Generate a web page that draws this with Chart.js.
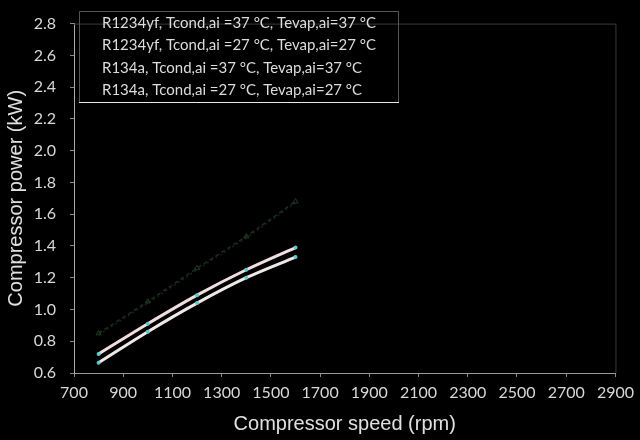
<!DOCTYPE html>
<html lang="en">
<head>
  <meta charset="UTF-8">
  <script src="https://cdn.jsdelivr.net/npm/chart.js"></script>
  <title>Compressor power</title>
  <style>
    html, body{margin: 0; padding: 0; background: #000;}
    #wrap{width: 640px; height: 440px;}
  </style>
</head>
<body>
  <div id="wrap">
    <canvas id="myChart" width="640" height="440"></canvas>
  </div>
  <script>
    // data
    const speeds = [800, 1000, 1200, 1400, 1600];
    const yf37 = [0.85, 1.05, 1.26, 1.46, 1.68];
    const yf27 = [0.72, 0.91, 1.09, 1.25, 1.39];
    const a37 = [0.84, 1.04, 1.25, 1.45, 1.67];
    const a27 = [0.665, 0.86, 1.04, 1.20, 1.33];
    const seriesLabels = [
      "R1234yf, Tcond,ai =37 °C, Tevap,ai=37 °C",
      "R1234yf, Tcond,ai =27 °C, Tevap,ai=27 °C",
      "R134a, Tcond,ai =37 °C, Tevap,ai=37 °C",
      "R134a, Tcond,ai =27 °C, Tevap,ai=27 °C"
    ];
    const xTicks = [700, 900, 1100, 1300, 1500, 1700, 1900, 2100, 2300, 2500, 2700, 2900];

    function pts(ys){
      return speeds.map((x, i) => ({x: x, y: ys[i]}));
    }

    // legend box drawn inside the plot, text only
    const boxLegend = {
      id: 'boxLegend',
      afterDraw(chart){
        const c = chart.ctx;
        c.save();
        c.strokeStyle = '#555';
        c.lineWidth = 1;
        c.beginPath();
        c.moveTo(79.5, 102);
        c.lineTo(79.5, 11.5);
        c.lineTo(398.5, 11.5);
        c.lineTo(398.5, 102);
        c.stroke();
        c.strokeStyle = '#e8e8e8';
        c.beginPath();
        c.moveTo(79, 102.5);
        c.lineTo(399, 102.5);
        c.stroke();
        c.fillStyle = '#dcdcdc';
        c.font = '15px Lato';
        c.textBaseline = 'middle';
        chart.data.datasets.forEach((ds, i) => {
          c.fillText(ds.label, 102, 23 + i * 22.5);
        });
        c.restore();
      }
    };

    // thin frame on top and right
    const frame = {
      id: 'frame',
      beforeDatasetsDraw(chart){
        const a = chart.chartArea;
        const c = chart.ctx;
        c.save();
        c.strokeStyle = '#3a3a3a';
        c.lineWidth = 1;
        c.beginPath();
        c.moveTo(a.left, a.top + 0.5);
        c.lineTo(a.right + 0.5, a.top + 0.5);
        c.lineTo(a.right + 0.5, a.bottom);
        c.stroke();
        c.restore();
      }
    };

    const ctx = document.getElementById('myChart');

    new Chart(ctx, {
      type: 'line',
      data: {
        datasets: [{
          label: seriesLabels[0],
          data: pts(yf37),
          borderColor: '#1a2e1e',
          borderWidth: 1.5,
          borderDash: [4, 3],
          pointStyle: 'triangle',
          pointRadius: 3,
          pointBackgroundColor: 'transparent',
          pointBorderColor: '#213a26',
          pointBorderWidth: 1
        }, {
          label: seriesLabels[1],
          data: pts(yf27),
          borderColor: '#f2dede',
          borderWidth: 3,
          cubicInterpolationMode: 'monotone',
          pointRadius: 2,
          pointBackgroundColor: '#5ccccc',
          pointBorderWidth: 0
        }, {
          label: seriesLabels[2],
          data: pts(a37),
          borderColor: '#142218',
          borderWidth: 1.5,
          borderDash: [2, 3],
          pointRadius: 0
        }, {
          label: seriesLabels[3],
          data: pts(a27),
          borderColor: '#f0e8e8',
          borderWidth: 3,
          cubicInterpolationMode: 'monotone',
          pointRadius: 2,
          pointBackgroundColor: '#5ccccc',
          pointBorderWidth: 0
        }]
      },
      options: {
        responsive: false,
        animation: false,
        layout: {padding: {top: 8, right: 21, left: 0, bottom: 0}},
        plugins: {
          legend: {display: false},
          tooltip: {enabled: false}
        },
        scales: {
          x: {
            type: 'linear',
            min: 700,
            max: 2900,
            afterBuildTicks: s => { s.ticks = xTicks.map(v => ({value: v})); },
            afterFit: s => { s.height = 67; },
            grid: {drawOnChartArea: false, color: '#888', tickLength: 4},
            border: {color: '#999', width: 1},
            ticks: {color: '#d8d8d8', font: {family: 'Lato', size: 16}, padding: 6, maxRotation: 0,
                    callback: v => String(v)},
            title: {display: true, text: 'Compressor speed (rpm)', color: '#e0e0e0',
                    font: {family: 'Liberation Sans', size: 20}, padding: {top: 4, bottom: 4}}
          },
          y: {
            min: 0.6,
            max: 2.8,
            afterFit: s => { s.width = 74; },
            grid: {drawOnChartArea: false, color: '#888', tickLength: 4},
            border: {color: '#aaa', width: 1},
            ticks: {stepSize: 0.2, color: '#d8d8d8', font: {family: 'Lato', size: 16}, padding: 14,
                    callback: v => v.toFixed(1)},
            title: {display: true, text: 'Compressor power (kW)', color: '#e0e0e0',
                    font: {family: 'Liberation Sans', size: 20}, padding: {top: 4, bottom: 4}}
          }
        }
      },
      plugins: [frame, boxLegend]
    });
  </script>
</body>
</html>
